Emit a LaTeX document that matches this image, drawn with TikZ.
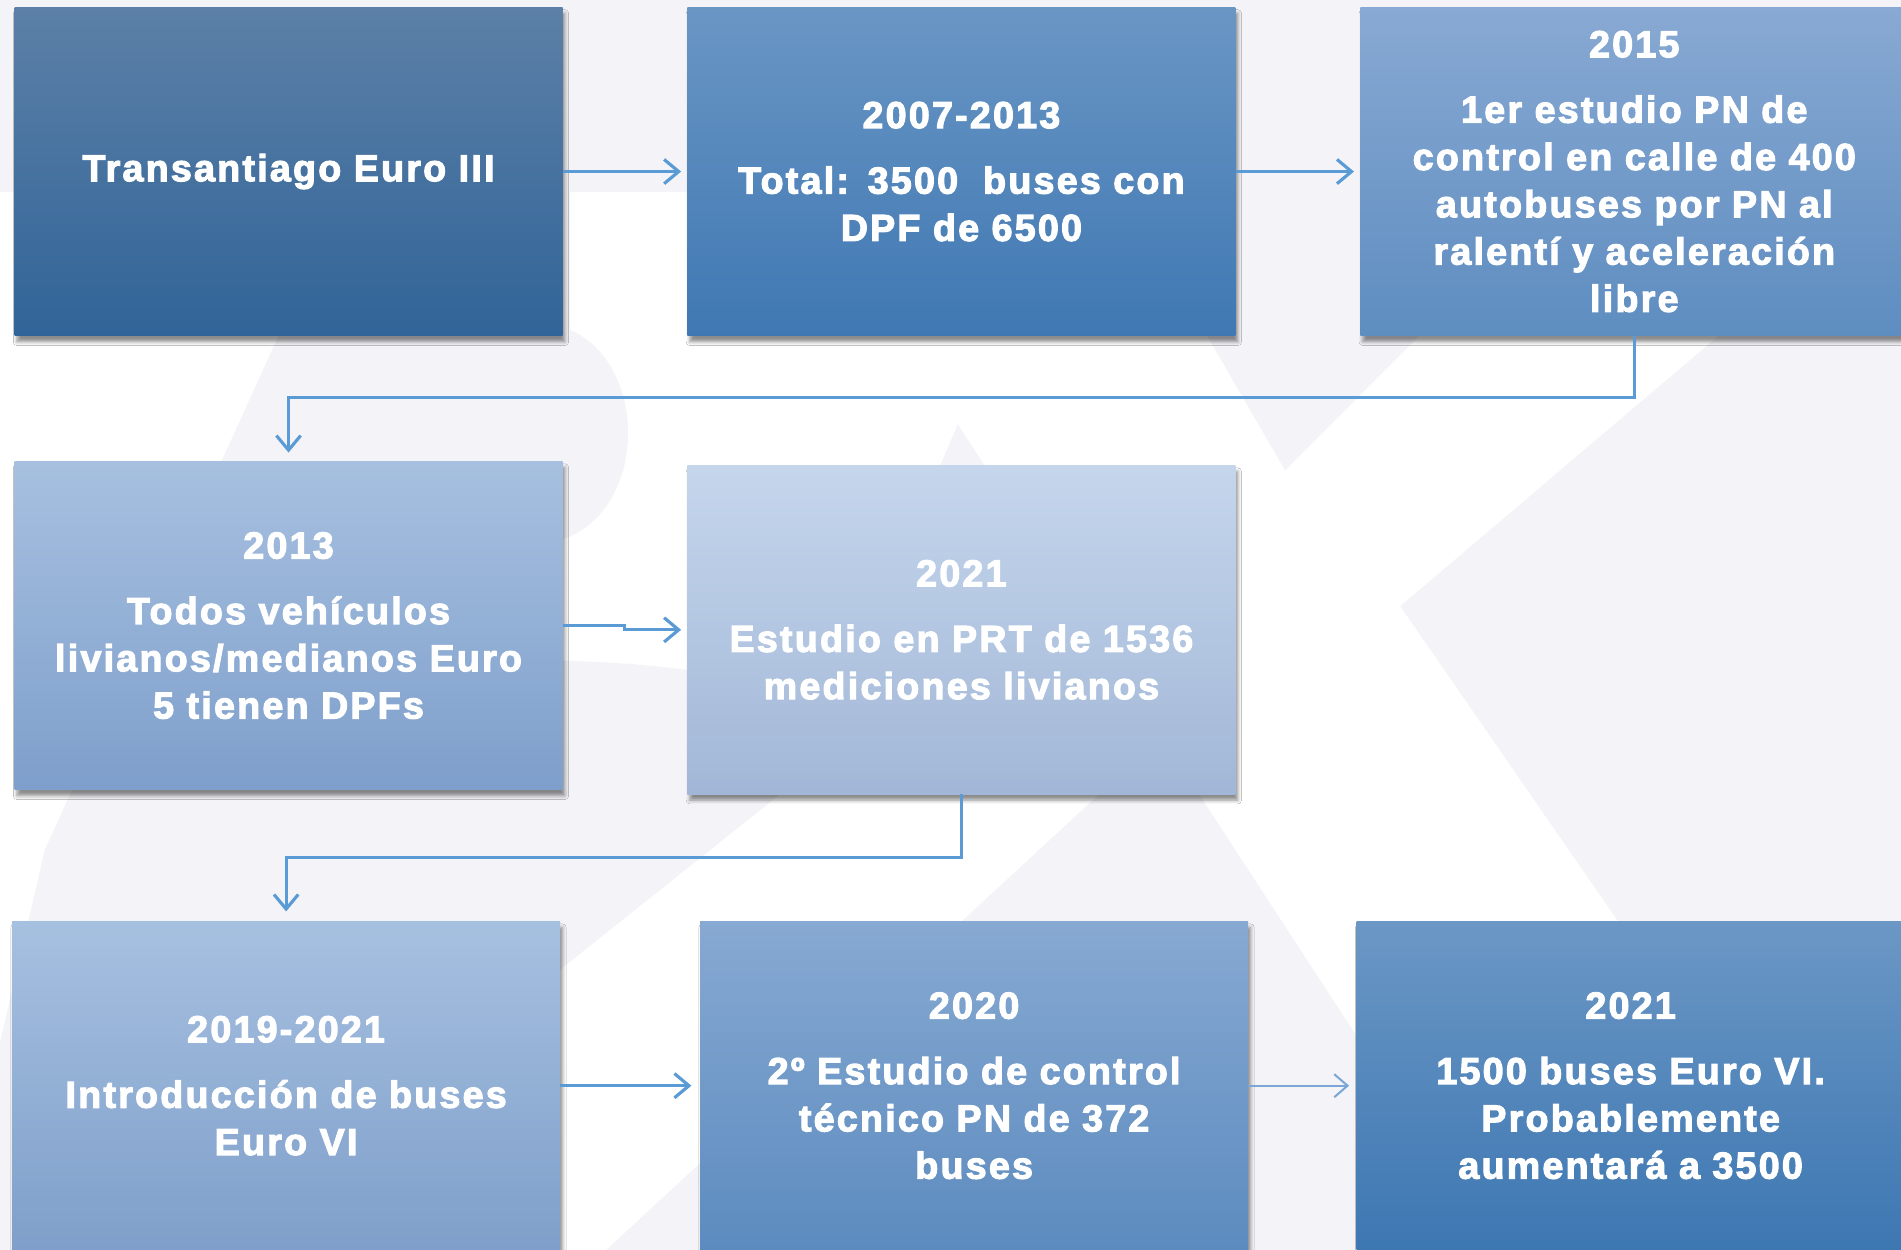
\documentclass[tikz,border=0pt]{standalone}
\usepackage{fontspec}
\newfontfamily\boxfont{Liberation Sans}[BoldFont={Liberation Sans Bold}, BoldFeatures={FakeBold=3}, LetterSpace=6]
\usetikzlibrary{arrows.meta,shadows.blur}

% box gradients (top / bottom)
\definecolor{b1t}{HTML}{5C80A7}\definecolor{b1b}{HTML}{316498}
\definecolor{b2t}{HTML}{6A96C4}\definecolor{b2b}{HTML}{3F78B3}
\definecolor{b3t}{HTML}{88A9D3}\definecolor{b3b}{HTML}{5E8DC0}
\definecolor{b4t}{HTML}{A7C0E0}\definecolor{b4b}{HTML}{7E9FCB}
\definecolor{b5t}{HTML}{C5D6EC}\definecolor{b5b}{HTML}{A2B7D7}
\definecolor{b7t}{HTML}{A6C0E0}\definecolor{b7b}{HTML}{7F9FCA}
\definecolor{b8t}{HTML}{87A9D2}\definecolor{b8b}{HTML}{5C8BBF}
\definecolor{b9t}{HTML}{6B97C5}\definecolor{b9b}{HTML}{3D77B2}
\definecolor{flowblue}{HTML}{5B9BD5}
\definecolor{flowlight}{HTML}{7BA7D7}
\definecolor{wm}{HTML}{F4F4F8}

\tikzset{
  card/.style={rectangle, minimum width=452pt, minimum height=271pt,
    inner sep=0pt, text width=440pt, align=center, text=white,
    font=\boxfont\bfseries\fontsize{31}{39}\selectfont,
    blur shadow={shadow xshift=2pt, shadow yshift=-5pt,
      shadow blur radius=3pt, shadow opacity=45}},
  flow/.style={draw=flowblue, line width=2.6pt,
    -{Straight Barb[length=12pt,width=20pt]}},
  flowthin/.style={draw=flowlight, line width=1.7pt,
    -{Straight Barb[length=11pt,width=19pt]}},
  watermark/.style={fill=wm, draw=none}
}

\begin{document}
\begin{tikzpicture}[x=1pt, y=-1pt]
\useasboundingbox (0,0) rectangle (1568,1031);
\fill[white] (0,0) rectangle (1568,1031);

% faint background lettering
\fill[watermark] (0,0) rectangle (1568,158);
\fill[watermark] (250,150) -- (470,150) -- (470,272)
  .. controls (535,300) and (535,420) .. (464,445) -- (464,545)
  .. controls (600,548) and (700,575) .. (700,610)
  -- (172,1031) -- (0,1031) -- (0,860) -- (37,701) -- (232,272) -- cycle;
\fill[watermark] (790,350) -- (1234,1031) -- (500,1031) -- (910,652)
  -- (830,560) -- (760,420) -- cycle;
\fill[watermark] (922,150) -- (1297,150) -- (1060,388) -- cycle;
\fill[watermark] (1567,150) -- (1155,500) -- (1522,1031) -- (1568,1031) -- (1568,150) -- cycle;

% timeline boxes
\node[card, top color=b1t, bottom color=b1b] (b1) at (238,141.5)
  {Transantiago Euro III};
\node[card, top color=b2t, bottom color=b2b] (b2) at (793,141.5)
  {2007-2013\\[15pt]Total: 3500~ buses con\\DPF de 6500};
\node[card, top color=b3t, bottom color=b3b] (b3) at (1348,141.5)
  {2015\\[15pt]1er estudio PN de\\control en calle de 400\\autobuses por PN al\\ralentí y aceleración\\libre};
\node[card, top color=b4t, bottom color=b4b] (b4) at (238,516)
  {2013\\[15pt]Todos vehículos\\livianos/medianos Euro\\5 tienen DPFs};
\node[card, top color=b5t, bottom color=b5b] (b5) at (793,519.5)
  {2021\\[15pt]Estudio en PRT de 1536\\mediciones livianos};
\node[card, top color=b7t, bottom color=b7b] (b7) at (236,895.5)
  {2019-2021\\[15pt]Introducción de buses\\Euro VI};
\node[card, top color=b8t, bottom color=b8b] (b8) at (803.5,895.5)
  {2020\\[15pt]2º Estudio de control\\técnico PN de 372\\buses};
\node[card, top color=b9t, bottom color=b9b] (b9) at (1345,895.5)
  {2021\\[15pt]1500 buses Euro VI.\\Probablemente\\aumentará a 3500};

% connectors
\draw[flow, shorten >=5pt] (b1.east) -- (b2.west);
\draw[flow, shorten >=5pt] (b2.east) -- (b3.west);
\draw[flow, shorten >=7pt] (b3.south) -- ++(0,51) -| (b4.north);
\draw[flow, shorten >=5pt] (b4.east) -- ++(51,0) |- (b5.west);
\draw[flow, shorten >=8pt] (b5.south) -- ++(0,52) -| (b7.north);
\draw[flow, shorten >=7pt] (b7.east) -- (b8.west);
\draw[flowthin, shorten >=6pt] (b8.east) -- (b9.west);
\end{tikzpicture}
\end{document}
